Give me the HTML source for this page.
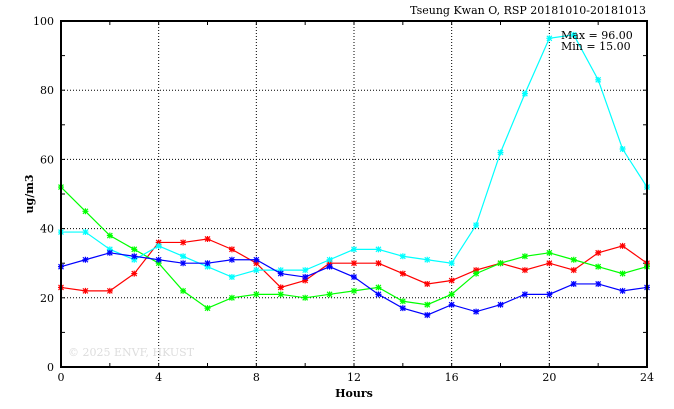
<!DOCTYPE html><html><head><style>body{margin:0;background:#fff}svg{display:block}text{font-family:"DejaVu Serif","Liberation Serif",serif;font-size:11px;fill:#000}</style></head><body>
<svg id="s" width="674" height="409" xmlns="http://www.w3.org/2000/svg"></svg>
<script>
const s=document.getElementById('s');let h='';
const X0=61,X1=647,Y0=367,Y1=21;
const X=v=>X0+(X1-X0)*v/24, Y=v=>Y0-(Y0-Y1)*v/100;
for(let i=4;i<24;i+=4)h+=`<line x1="${X(i)}" y1="${Y1}" x2="${X(i)}" y2="${Y0}" stroke="#000" stroke-dasharray="1,2"/>`;
for(let v=20;v<100;v+=20)h+=`<line x1="${X0}" y1="${Y(v)}" x2="${X1}" y2="${Y(v)}" stroke="#000" stroke-dasharray="1,2"/>`;
for(let i=0;i<=24;i+=2){h+=`<line x1="${X(i)}" y1="${Y0}" x2="${X(i)}" y2="${Y0-4}" stroke="#000"/><line x1="${X(i)}" y1="${Y1}" x2="${X(i)}" y2="${Y1+4}" stroke="#000"/>`;}
for(let v=0;v<=100;v+=10){h+=`<line x1="${X0}" y1="${Y(v)}" x2="${X0+4}" y2="${Y(v)}" stroke="#000"/><line x1="${X1}" y1="${Y(v)}" x2="${X1-4}" y2="${Y(v)}" stroke="#000"/>`;}
for(let i=0;i<=24;i+=4)h+=`<text x="${X(i)}" y="381" text-anchor="middle">${i}</text>`;
for(let v=0;v<=100;v+=20)h+=`<text x="54" y="${Y(v)+4}" text-anchor="end">${v}</text>`;
const D=[["#ff0000",[23,22,22,27,36,36,37,34,30,23,25,30,30,30,27,24,25,28,30,28,30,28,33,35,30]],
["#00ff00",[52,45,38,34,30,22,17,20,21,21,20,21,22,23,19,18,21,27,30,32,33,31,29,27,29]],
["#00ffff",[39,39,34,31,35,32,29,26,28,28,28,31,34,34,32,31,30,41,62,79,95,96,83,63,52]],
["#0000ff",[29,31,33,32,31,30,30,31,31,27,26,29,26,21,17,15,18,16,18,21,21,24,24,22,23]]];
for(const [c,d] of D){h+=`<polyline fill="none" stroke="${c}" stroke-width="1.2" points="${d.map((v,i)=>X(i)+','+Y(v)).join(' ')}"/>`;
for(let i=0;i<d.length;i++){const x=X(i),y=Y(d[i]);h+=`<path d="M${x-3},${y}h6M${x},${y-3}v6M${x-2.5},${y-2.5}l5,5M${x-2.5},${y+2.5}l5,-5" stroke="${c}" stroke-width="1.2"/>`;}}
h+=`<rect x="${X0}" y="${Y1}" width="${X1-X0}" height="${Y0-Y1}" fill="none" stroke="#000" stroke-width="2"/>`;
h+=`<text x="646" y="14" text-anchor="end">Tseung Kwan O, RSP 20181010-20181013</text>`;
h+=`<text x="561" y="39">Max = 96.00</text><text x="561" y="50">Min = 15.00</text>`;
h+=`<text x="354" y="397" text-anchor="middle" font-weight="bold">Hours</text>`;
h+=`<text transform="translate(33,194) rotate(-90)" text-anchor="middle" font-weight="bold">ug/m3</text>`;
h+=`<text x="68" y="356" style="fill:#ddd">© 2025  ENVF, HKUST</text>`;
s.innerHTML=h;
</script></body></html>
